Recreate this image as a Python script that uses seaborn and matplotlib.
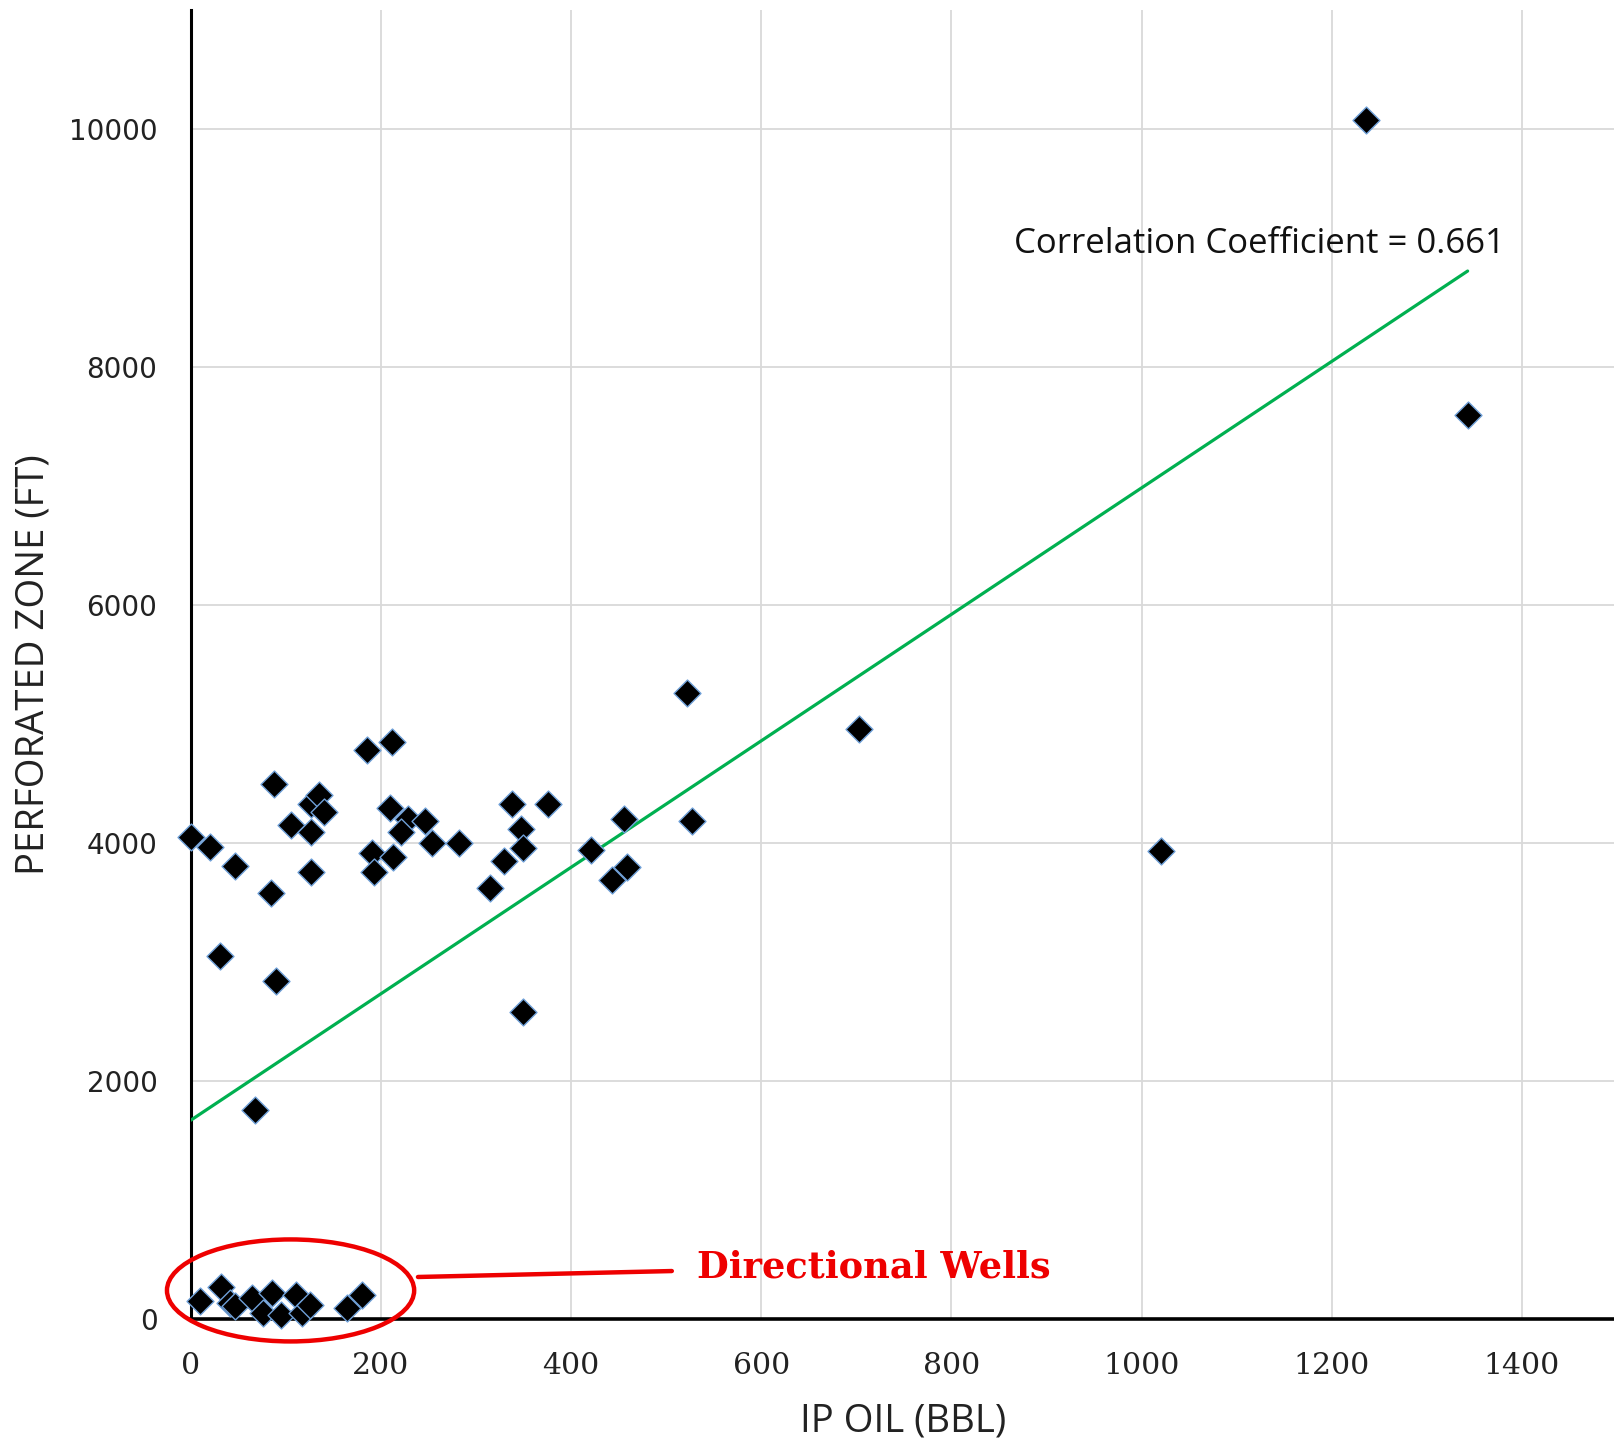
import matplotlib
matplotlib.use("Agg")
import matplotlib.pyplot as plt
from matplotlib.patches import Ellipse
import seaborn as sns
import pandas as pd

# Vertical wells: initial oil production vs perforated interval
ip_oil = [0, 20, 47, 84, 31, 90, 88, 185, 212, 127, 135, 140, 105, 126, 126,
          210, 228, 246, 221, 254, 282, 191, 213, 193, 68,
          338, 376, 347, 349, 330, 315, 349, 421, 456, 459, 443,
          522, 527, 703, 1021, 1236, 1343]
perf_zone = [4047, 3968, 3808, 3582, 3052, 2842, 4499, 4780, 4850, 4327, 4402, 4263, 4148, 4090, 3760,
             4290, 4200, 4186, 4090, 4003, 4003, 3920, 3880, 3755, 1756,
             4324, 4324, 4117, 3962, 3848, 3620, 2580, 3938, 4205, 3796, 3686,
             5258, 4187, 4957, 3936, 10078, 7595]

# Directional wells near the origin
dir_ip_oil = [10, 32, 41, 47, 64, 76, 85, 95, 111, 117, 125, 164, 180]
dir_perf_zone = [151, 272, 132, 109, 174, 53, 221, 34, 202, 53, 118, 90, 202]

# Linear trend endpoints
trend_x = [0, 1343]
trend_y = [1670, 8806]

x_ticks = [0, 200, 400, 600, 800, 1000, 1200, 1400]
y_ticks = [0, 2000, 4000, 6000, 8000, 10000]

df = pd.DataFrame({"ip": ip_oil + dir_ip_oil, "pz": perf_zone + dir_perf_zone})
trend = pd.DataFrame({"ip": trend_x, "pz": trend_y})

sns.set_style("white")
fig = plt.figure(figsize=(16.15, 14.42), dpi=100)
ax = fig.add_axes([0.1181, 0.0853, 1.0 - 0.1181, 0.9931 - 0.0853])

ax.set_xlim(0, 1498)
ax.set_ylim(0, 11000)
ax.set_xticks(x_ticks)
ax.set_yticks(y_ticks)
ax.grid(True, color="#d9d9d9", linewidth=1.3)
ax.set_axisbelow(True)

sns.lineplot(data=trend, x="ip", y="pz", ax=ax, color="#00b050", linewidth=2.3, zorder=3)
sns.scatterplot(data=df, x="ip", y="pz", ax=ax, marker="D", s=188, color="black",
                edgecolor="#6fa0d8", linewidth=1.0, zorder=4, clip_on=False)

for side in ("top", "right"):
    ax.spines[side].set_visible(False)
ax.spines["left"].set_linewidth(2.2)
ax.spines["bottom"].set_linewidth(2.6)
ax.spines["left"].set_color("black")
ax.spines["bottom"].set_color("black")
ax.tick_params(axis="both", length=0)
ax.tick_params(axis="y", pad=24)
ax.tick_params(axis="x", pad=24)

ax.set_xticklabels([str(v) for v in x_ticks], family="DejaVu Serif", fontsize=21.5, color="#222222")
ax.set_yticklabels([str(v) for v in y_ticks], family="DejaVu Sans", fontsize=20, color="#222222")

ax.set_xlabel("IP OIL (BBL)", family="Open Sans", fontsize=27.5, color="#222222", labelpad=16)
ax.set_ylabel("PERFORATED ZONE (FT)", family="Open Sans", fontsize=27.5, color="#222222", labelpad=12)

ax.text(1382, 9030, "Correlation Coefficient = 0.661", family="Open Sans", fontsize=25,
        ha="right", va="center", color="#111111")

# Directional wells callout
ell = Ellipse((105, 240), 260, 857, fill=False, edgecolor="#ee0000", linewidth=3.2,
              clip_on=False, zorder=5)
ax.add_patch(ell)
ax.plot([239, 506], [353, 403], color="#ee0000", linewidth=3.2, zorder=5, clip_on=False)
ax.text(533, 435, "Directional Wells", family="DejaVu Serif", fontweight="bold",
        fontsize=26.5, color="#ee0000", ha="left", va="center")

fig.savefig("out.png", dpi=100, facecolor="white")
